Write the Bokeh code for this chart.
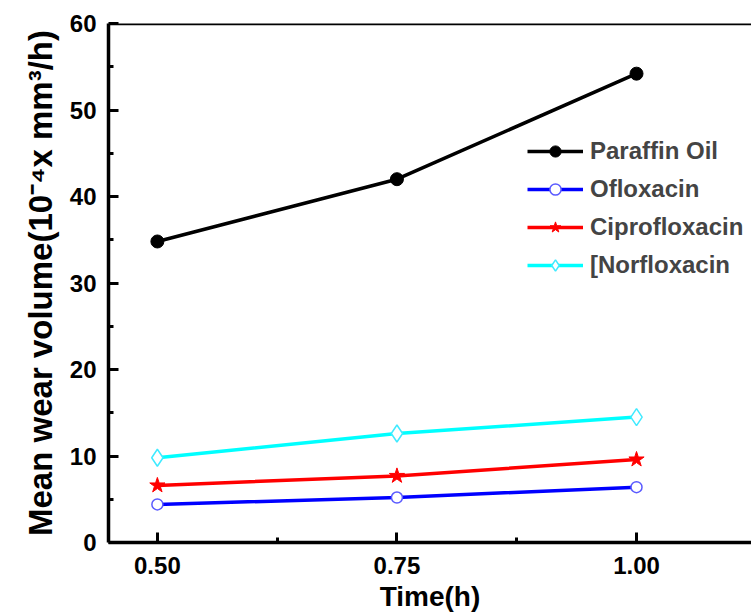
from bokeh.plotting import figure
from bokeh.models import FixedTicker, Span, Range1d
from bokeh.embed import file_html
from bokeh.resources import INLINE

time_h = [0.50, 0.75, 1.00]
paraffin = [34.8, 42.0, 54.2]
ofloxacin = [4.4, 5.2, 6.4]
ciprofloxacin = [6.6, 7.7, 9.6]
norfloxacin = [9.8, 12.6, 14.5]

x_ticks = [0.50, 0.75, 1.00]
x_minor = [0.375, 0.625, 0.875, 1.125]
y_ticks = [0, 10, 20, 30, 40, 50, 60]
y_minor = [5, 15, 25, 35, 45, 55]

FONT = "Liberation Sans"

p = figure(width=751, height=615, output_backend="svg", toolbar_location=None,
           x_range=Range1d(0.449, 1.12), y_range=Range1d(0, 60),
           min_border_left=108, min_border_top=23, min_border_right=0, min_border_bottom=73)
p.background_fill_color = "white"
p.border_fill_color = "white"
p.outline_line_color = None
p.grid.visible = False

# top frame line
p.add_layout(Span(location=60, dimension="width", line_color="black", line_width=3.5))

series = [
    ("Paraffin Oil", paraffin, "black", dict(marker="circle", size=13, fill_color="black", line_color="black")),
    ("Ofloxacin", ofloxacin, "#0000ff", dict(marker="circle", size=11, fill_color="white", line_color="#5a5aff", line_width=1.5)),
    ("Ciprofloxacin", ciprofloxacin, "#ff0000", dict(marker="star", size=16, fill_color="#ff0000", line_color="#ff0000")),
    ("[Norfloxacin", norfloxacin, "#00ffff", dict(marker="diamond", size=17, fill_color="white", line_color="#40eaff", line_width=1.5)),
]
for name, ys, col, mk in series:
    p.line(time_h, ys, line_color=col, line_width=3.5, legend_label=name)
    p.scatter(time_h, ys, legend_label=name, **mk)

for axs in (p.xaxis, p.yaxis):
    axs.axis_line_width = 3.5
    axs.axis_line_color = "black"
    axs.major_tick_in = 10
    axs.major_tick_out = 0
    axs.minor_tick_in = 5
    axs.minor_tick_out = 0
    axs.major_tick_line_width = 3
    axs.minor_tick_line_width = 3
    axs.major_tick_line_color = "black"
    axs.minor_tick_line_color = "black"
    axs.major_label_text_font = FONT
    axs.major_label_text_font_style = "bold"
    axs.major_label_text_font_size = "24px"
    axs.major_label_text_color = "black"
    axs.axis_label_text_font = FONT
    axs.axis_label_text_font_style = "bold"
    axs.axis_label_text_color = "black"

p.xaxis.ticker = FixedTicker(ticks=x_ticks, minor_ticks=x_minor)
p.xaxis.major_label_overrides = {0.5: "0.50", 0.75: "0.75", 1.0: "1.00"}
p.xaxis.axis_label = "Time(h)"
p.xaxis.axis_label_text_font_size = "28px"
p.xaxis.major_label_standoff = 14
p.xaxis.axis_label_standoff = 4

p.yaxis.ticker = FixedTicker(ticks=y_ticks, minor_ticks=y_minor)
p.yaxis.axis_label = "Mean wear volume(10\u207b\u2074x mm\u00b3/h)"
p.yaxis.axis_label_text_font_size = "33px"
p.yaxis.major_label_standoff = 12
p.yaxis.axis_label_standoff = 8

lg = p.legend[0]
lg.location = (419, 263)
lg.padding = 0
lg.margin = 0
lg.spacing = 10
lg.background_fill_alpha = 0
lg.border_line_alpha = 0
lg.label_text_font = FONT
lg.label_text_font_style = "bold"
lg.label_text_font_size = "24px"
lg.glyph_width = 56
lg.glyph_height = 28
lg.label_height = 28
lg.label_standoff = 7

open("out.html", "w").write(file_html(p, INLINE))
